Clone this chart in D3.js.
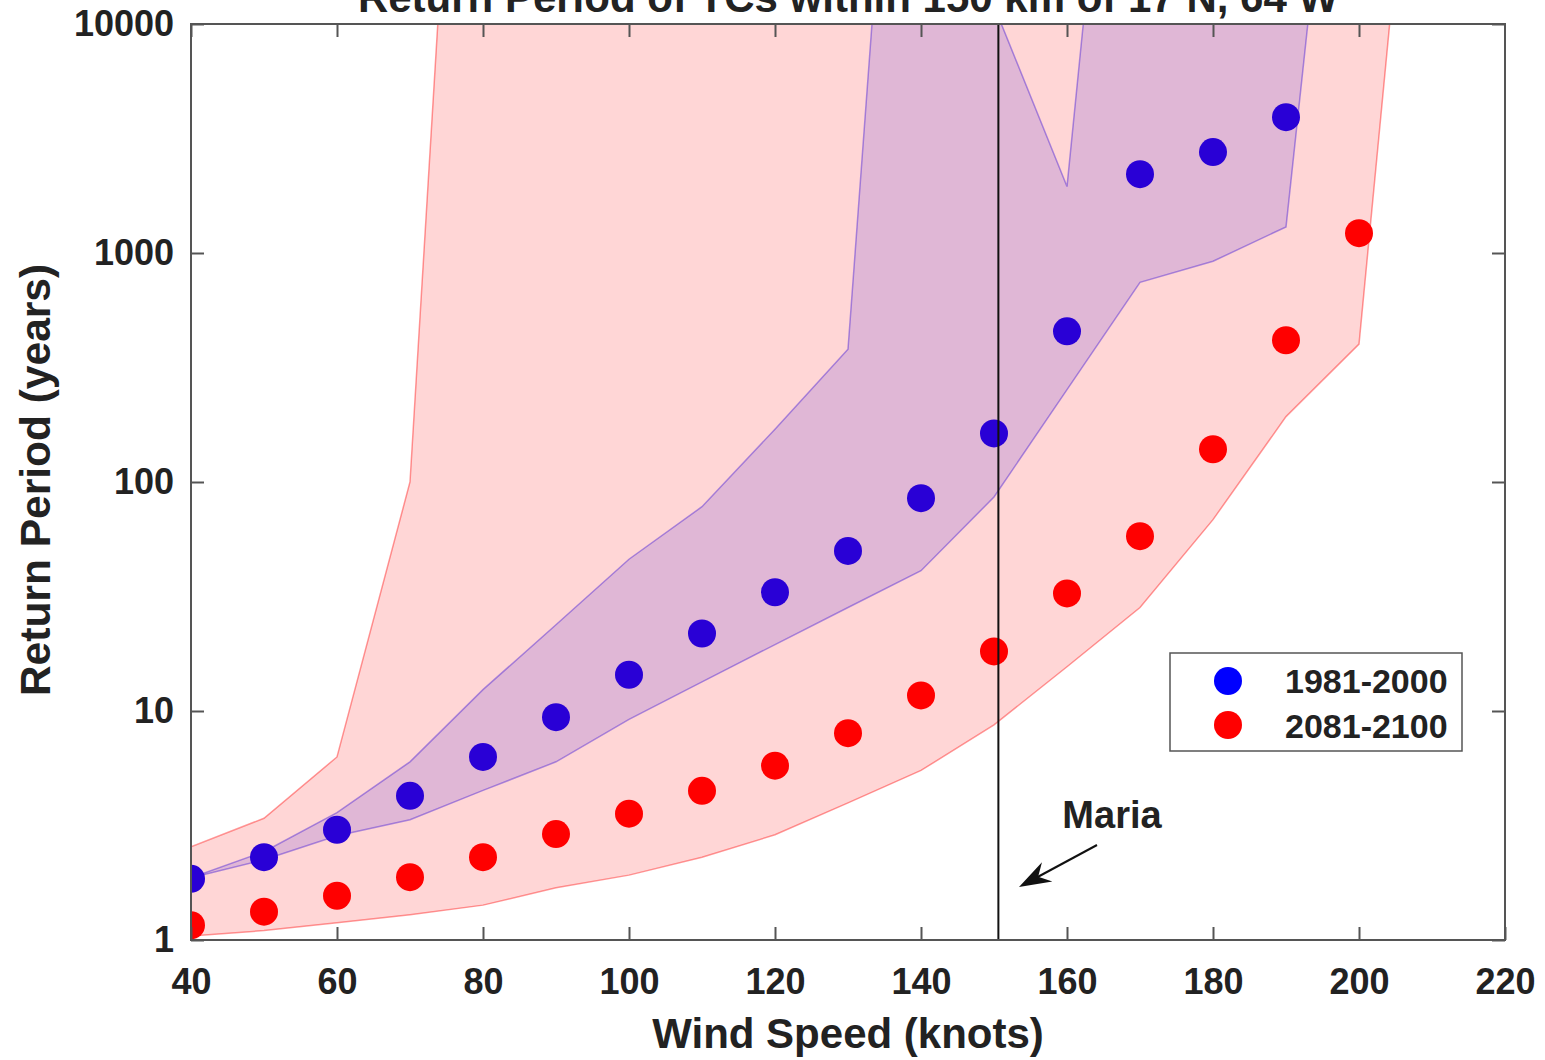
<!DOCTYPE html>
<html>
<head>
<meta charset="utf-8">
<script src="https://cdn.jsdelivr.net/npm/d3@7"></script>
<style>
  html, body { margin: 0; padding: 0; background: #fff; }
  svg text { font-family: "Liberation Sans", Arial, Helvetica, sans-serif; font-weight: bold; fill: #222; }
</style>
</head>
<body>
<svg id="chart" width="1545" height="1060"></svg>
<script>
// ---------- data ----------
const windSpeeds = [40, 50, 60, 70, 80, 90, 100, 110, 120, 130, 140, 150, 160, 170, 180, 190, 200];
const period1981 = [1.85, 2.3, 3.03, 4.26, 6.3, 9.4, 14.4, 21.8, 33, 50, 85, 163, 455, 2210, 2760, 3920];
const period2081 = [1.16, 1.33, 1.56, 1.88, 2.3, 2.9, 3.56, 4.48, 5.77, 8.0, 11.7, 18.2, 32.6, 58, 139, 416, 1220];

// uncertainty range, 1981-2000 (values above 10000 run off the top of the axes)
const bandSpeeds1981 = [40, 50, 60, 70, 80, 90, 100, 110, 120, 130, 140, 150, 160, 170, 180, 190, 200];
const lower1981 = [1.87, 2.24, 2.85, 3.35, 4.5, 6.0, 9.2, 13.4, 19.5, 28.3, 41, 86, 253, 745, 920, 1300, 1.2e6];
const upper1981 = [1.87, 2.43, 3.6, 6.0, 12.4, 23.8, 46, 78, 170, 380, 8e6, 12000, 1950, 3e6, 3e6, 3e6, 3e6];

// uncertainty range, 2081-2100
const bandSpeeds2081 = [40, 50, 60, 70, 80, 90, 100, 110, 120, 130, 140, 150, 160, 170, 180, 190, 200, 210];
const lower2081 = [1.04, 1.1, 1.19, 1.29, 1.42, 1.69, 1.92, 2.3, 2.88, 3.97, 5.5, 8.7, 15.6, 28.3, 68.5, 193, 400, 8.5e5];
const upper2081 = [2.55, 3.4, 6.3, 100, 1.8e7, 1e8, 1e8, 1e8, 1e8, 1e8, 1e8, 1e8, 1e8, 1e8, 1e8, 1e8, 1e8, 1e8];

const xTicks = [40, 60, 80, 100, 120, 140, 160, 180, 200, 220];
const yTicks = [1, 10, 100, 1000, 10000];
const seriesNames = ["1981-2000", "2081-2100"];
const mariaSpeed = 150.6;
const titleText = "Return Period of TCs within 150 km of 17 N, 64 W";
const xLabel = "Wind Speed (knots)";
const yLabel = "Return Period (years)";

// ---------- layout ----------
const L = 191, R = 1505, T = 24, B = 940;
const svg = d3.select("#chart");
const x = d3.scaleLinear().domain([40, 220]).range([L, R]);
const y = d3.scaleLog().domain([1, 10000]).range([B, T]);

svg.append("defs").append("clipPath").attr("id", "plotClip")
  .append("rect").attr("x", L).attr("y", T).attr("width", R - L).attr("height", B - T);

const plot = svg.append("g").attr("clip-path", "url(#plotClip)");

const band1 = bandSpeeds1981.map((s, i) => ({ s, lo: lower1981[i], hi: upper1981[i] }));
const band2 = bandSpeeds2081.map((s, i) => ({ s, lo: lower2081[i], hi: upper2081[i] }));

const area = d3.area().x(d => x(d.s)).y0(d => y(d.lo)).y1(d => y(d.hi));

// blue band
plot.append("path").datum(band1).attr("d", d => area(d) + "Z")
  .attr("fill", "rgba(0,0,255,0.14)")
  .attr("stroke", "rgba(40,40,255,0.45)").attr("stroke-width", 1.5);

// blue points
plot.selectAll("circle.p1").data(period1981).join("circle").attr("class", "p1")
  .attr("cx", (d, i) => x(windSpeeds[i])).attr("cy", d => y(d)).attr("r", 14)
  .attr("fill", "#0000ff");

// red band
plot.append("path").datum(band2).attr("d", d => area(d) + "Z")
  .attr("fill", "rgba(255,0,0,0.16)")
  .attr("stroke", "rgba(255,0,0,0.4)").attr("stroke-width", 1.5);

// red points
plot.selectAll("circle.p2").data(period2081).join("circle").attr("class", "p2")
  .attr("cx", (d, i) => x(windSpeeds[i])).attr("cy", d => y(d)).attr("r", 14)
  .attr("fill", "#ff0000");

// Maria line
svg.append("line").attr("x1", x(mariaSpeed)).attr("x2", x(mariaSpeed))
  .attr("y1", T).attr("y2", B).attr("stroke", "#111").attr("stroke-width", 2);

// ---------- axes ----------
const axisColor = "#555";
function styleAxis(g) {
  g.select(".domain").remove();
  g.selectAll(".tick line").attr("stroke", axisColor).attr("stroke-width", 2);
  g.selectAll(".tick text").attr("fill", "#222").style("font-size", "36px")
    .style("font-family", "'Liberation Sans', Arial, sans-serif").style("font-weight", "bold");
}
svg.append("g").attr("transform", `translate(0,${B})`)
  .call(d3.axisBottom(x).tickValues(xTicks).tickSize(-13).tickPadding(28).tickFormat(d3.format("d")))
  .call(styleAxis);
svg.append("g").attr("transform", `translate(0,${T})`)
  .call(d3.axisTop(x).tickValues(xTicks.slice(0, -1)).tickSize(-13).tickFormat(""))
  .call(styleAxis);
svg.append("g").attr("transform", `translate(${L},0)`)
  .call(d3.axisLeft(y).tickValues(yTicks).tickSize(-13).tickPadding(17).tickFormat(d3.format("d")))
  .call(styleAxis);
svg.append("g").attr("transform", `translate(${R},0)`)
  .call(d3.axisRight(y).tickValues(yTicks).tickSize(-13).tickFormat(""))
  .call(styleAxis);

svg.append("rect").attr("x", L).attr("y", T).attr("width", R - L).attr("height", B - T)
  .attr("fill", "none").attr("stroke", axisColor).attr("stroke-width", 2);

// ---------- labels ----------
svg.append("text").attr("x", (L + R) / 2).attr("y", 12).attr("text-anchor", "middle")
  .style("font-size", "42px").text(titleText);
svg.append("text").attr("x", (L + R) / 2).attr("y", 1048).attr("text-anchor", "middle")
  .style("font-size", "42px").text(xLabel);
svg.append("text").attr("transform", `translate(50,${(T + B) / 2 - 2}) rotate(-90)`)
  .attr("text-anchor", "middle").style("font-size", "42.5px").text(yLabel);

// Maria annotation
svg.append("text").attr("x", 1112).attr("y", 828).attr("text-anchor", "middle")
  .style("font-size", "38px").text("Maria");
const ax0 = 1097, ay0 = 845, ax1 = 1019, ay1 = 887;
svg.append("line").attr("x1", ax0).attr("y1", ay0).attr("x2", ax1 + 14).attr("y2", ay1 - 7.5)
  .attr("stroke", "#111").attr("stroke-width", 2);
{
  const ang = Math.atan2(ay1 - ay0, ax1 - ax0);
  const len = 32, wid = 11;
  const bx = ax1 - len * Math.cos(ang), by = ay1 - len * Math.sin(ang);
  const nx = -Math.sin(ang), ny = Math.cos(ang);
  const ix = ax1 - len * 0.68 * Math.cos(ang), iy = ay1 - len * 0.68 * Math.sin(ang);
  svg.append("path")
    .attr("d", `M${ax1},${ay1} L${bx + nx * wid},${by + ny * wid} L${ix},${iy} L${bx - nx * wid},${by - ny * wid} Z`)
    .attr("fill", "#111");
}

// ---------- legend ----------
const lg = svg.append("g");
lg.append("rect").attr("x", 1170).attr("y", 653).attr("width", 292).attr("height", 98)
  .attr("fill", "#fff").attr("stroke", axisColor).attr("stroke-width", 1.5);
const legendColors = ["#0000ff", "#ff0000"];
seriesNames.forEach((name, i) => {
  lg.append("circle").attr("cx", 1228).attr("cy", 681 + i * 44).attr("r", 14).attr("fill", legendColors[i]);
  lg.append("text").attr("x", 1285).attr("y", 693 + i * 45).style("font-size", "34px").text(name);
});
</script>
</body>
</html>
